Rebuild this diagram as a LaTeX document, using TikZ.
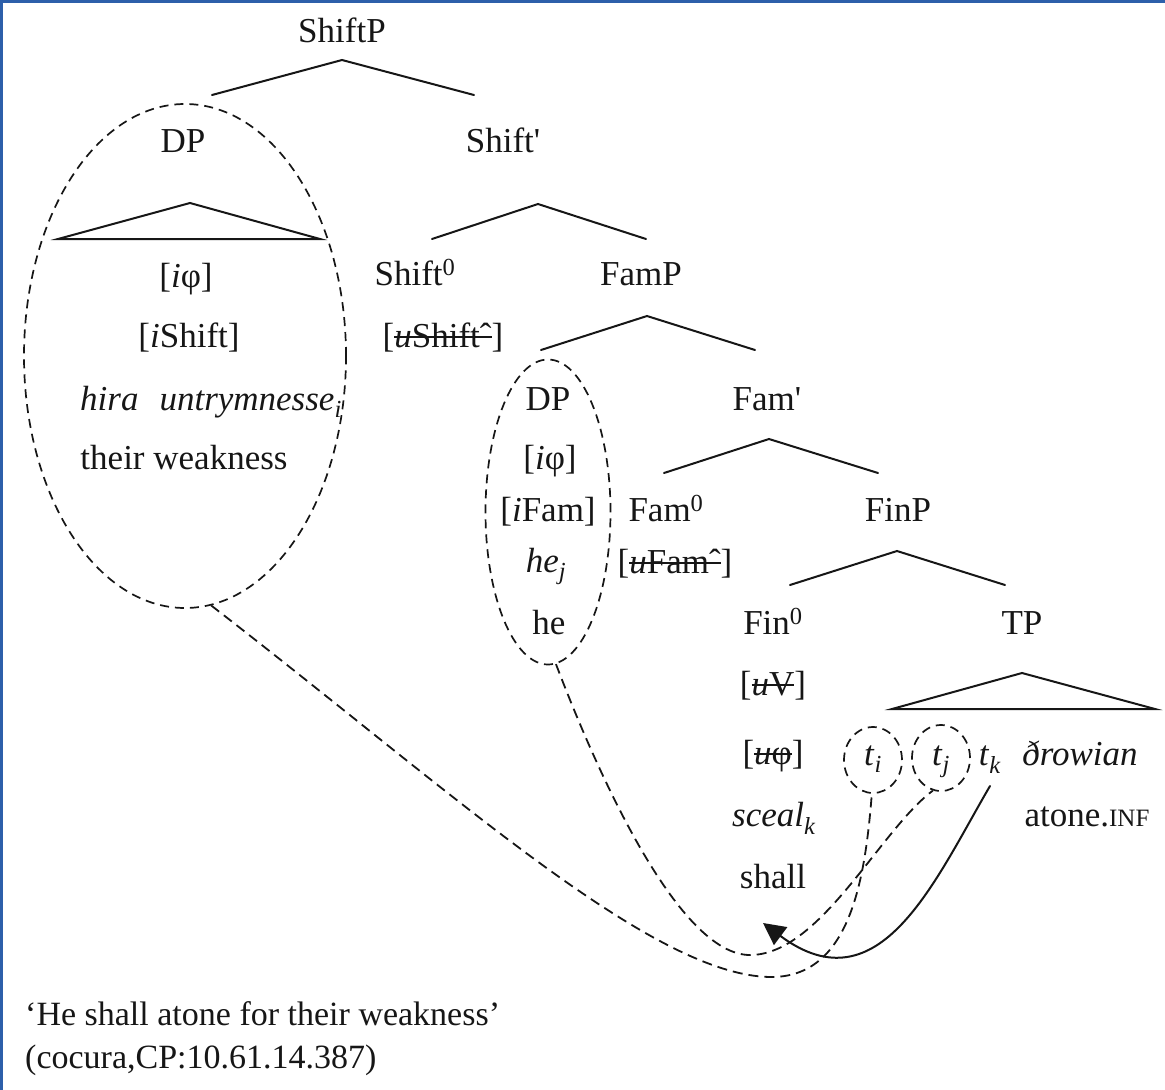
\documentclass[tikz,border=0pt]{standalone}
\usepackage{fontspec}
\setmainfont{Liberation Serif}
\usetikzlibrary{shapes.geometric,arrows.meta}
\newcommand\stk[1]{\setbox0=\hbox{#1}\rlap{\rule[0.27em]{\wd0}{0.05em}}\box0}
\definecolor{ink}{RGB}{22,22,22}
\definecolor{frameblue}{RGB}{45,95,170}
\begin{document}
\begin{tikzpicture}[x=1pt,y=-1pt,
  every node/.style={font=\fontsize{35}{40}\selectfont, inner sep=0pt, text=ink},
  lbl/.style={anchor=base},
  br/.style={draw=ink, line width=2pt, line cap=round, line join=miter},
  dsh/.style={draw=ink, line width=1.8pt, dash pattern=on 10pt off 6pt},
  ring/.style={ellipse, draw=ink, line width=1.7pt, dash pattern=on 9pt off 6pt}
]
\path[use as bounding box] (0,0) rectangle (1165,1090);
\draw[frameblue, line width=3pt] (0,1.5) -- (1165,1.5);
\draw[frameblue, line width=3pt] (1.5,0) -- (1.5,1090);

% ---- labels ----
\node[lbl] (ShiftP) at (342,42) {ShiftP};
\node[lbl] (DP1) at (183,152) {DP};
\node[lbl] (ShiftBar) at (503,152) {Shift\textquotesingle};
\node[lbl] (phi1) at (186,287) {[\textit{i}φ]};
\node[lbl] (ishift) at (189,347) {[\textit{i}Shift]};
\node[anchor=base west] (hira) at (80,410) {\textit{hira}\hspace{0.6em}\textit{untrymnesse}\textsubscript{\textit{i}}};
\node[lbl] (their) at (184,469) {their weakness};
\node[lbl] (Shift0) at (415,285) {Shift\textsuperscript{0}};
\node[lbl] (ushift) at (443,347) {[\stk{\textit{u}Shiftˆ}]};
\node[lbl] (FamP) at (641,285) {FamP};
\node[lbl] (DP2) at (548,410) {DP};
\node[lbl] (phi2) at (550,469) {[\textit{i}φ]};
\node[lbl] (ifam) at (548,521) {[\textit{i}Fam]};
\node[lbl] (hej) at (546,572) {\textit{he}\textsubscript{\textit{j}}};
\node[lbl] (he) at (549,634) {he};
\node[lbl] (FamBar) at (767,410) {Fam\textquotesingle};
\node[lbl] (Fam0) at (666,521) {Fam\textsuperscript{0}};
\node[lbl] (ufam) at (675,573) {[\stk{\textit{u}Famˆ}]};
\node[lbl] (FinP) at (898,521) {FinP};
\node[lbl] (Fin0) at (773,634) {Fin\textsuperscript{0}};
\node[lbl] (TP) at (1022,634) {TP};
\node[lbl] (uV) at (773,695) {[\stk{\textit{u}V}]};
\node[lbl] (uphi) at (773,764) {[\stk{\textit{u}φ}]};
\node[lbl] (ti) at (873,765) {\textit{t}\textsubscript{\textit{i}}};
\node[lbl] (tj) at (941,765) {\textit{t}\textsubscript{\textit{j}}};
\node[lbl] (tk) at (990,765) {\textit{t}\textsubscript{\textit{k}}};
\node[lbl] (drow) at (1080,765) {\textit{ðrowian}};
\node[lbl] (sceal) at (774,826) {\textit{sceal}\textsubscript{\textit{k}}};
\node[lbl] (atone) at (1087,826) {atone.{\fontsize{25}{30}\selectfont INF}};
\node[lbl] (shall) at (773,888) {shall};
\node[anchor=base west, font=\fontsize{34}{40}\selectfont] (gloss) at (25,1025) {‘He shall atone for their weakness’};
\node[anchor=base west, font=\fontsize{34}{40}\selectfont] (src) at (25,1068) {(cocura,CP:10.61.14.387)};

% ---- dashed rings ----
\node[ring, minimum width=322pt, minimum height=504pt] (E1) at (185,356) {};
\node[ring, minimum width=125pt, minimum height=305pt] (E2) at (548,512) {};
\node[ring, minimum width=58pt, minimum height=66pt] (ci) at (873,760) {};
\node[ring, minimum width=58pt, minimum height=66pt] (cj) at (941,758) {};

% ---- branches ----
\coordinate (a1) at (342,60);  \coordinate (l1) at (212,95);  \coordinate (r1) at (474,95);
\coordinate (a2) at (538,204); \coordinate (l2) at (432,239); \coordinate (r2) at (646,239);
\coordinate (a3) at (647,316); \coordinate (l3) at (541,350); \coordinate (r3) at (755,350);
\coordinate (a4) at (769,439); \coordinate (l4) at (664,473); \coordinate (r4) at (878,473);
\coordinate (a5) at (897,551); \coordinate (l5) at (790,585); \coordinate (r5) at (1005,585);
\draw[br] (l1) -- (a1) -- (r1);
\draw[br] (l2) -- (a2) -- (r2);
\draw[br] (l3) -- (a3) -- (r3);
\draw[br] (l4) -- (a4) -- (r4);
\draw[br] (l5) -- (a5) -- (r5);

% ---- triangles ----
\coordinate (t1a) at (190,203); \coordinate (t1l) at (58,239); \coordinate (t1r) at (320,239);
\coordinate (t2a) at (1022,673); \coordinate (t2l) at (892,709); \coordinate (t2r) at (1155,709);
\draw[br] (t1l) -- (t1a) -- (t1r) -- cycle;
\draw[br] (t2l) -- (t2a) -- (t2r) -- cycle;

% ---- movement paths ----
\draw[dsh] (E1.-84) .. controls (450,790) and (650,975) .. (770,977)
  .. controls (850,978) and (865,880) .. (ci.-92);
\draw[dsh] (E2.-87) .. controls (600,780) and (680,955) .. (750,955)
  .. controls (820,955) and (880,830) .. (cj.-104);
\coordinate (tkfoot) at (990,786);
\coordinate (tip) at (763,923);
\draw[br, -{Triangle[length=22pt,width=22pt]}] (tkfoot) .. controls (935,880) and (880,1010) .. (tip);
\end{tikzpicture}
\end{document}
